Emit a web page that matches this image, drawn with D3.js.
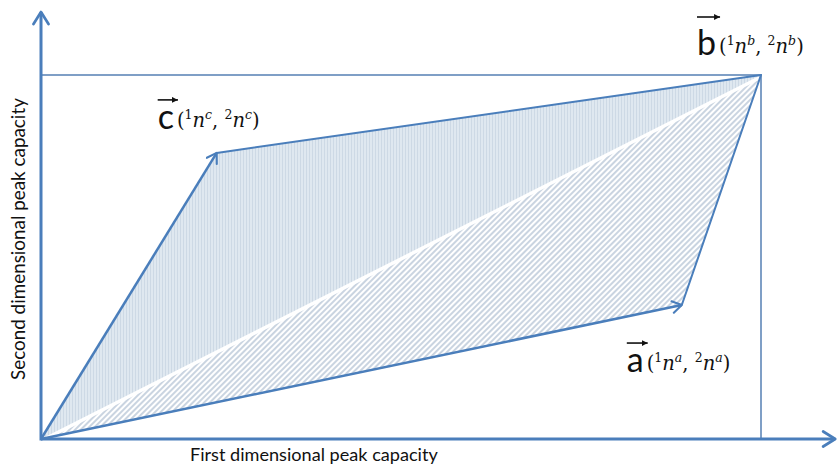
<!DOCTYPE html>
<html>
<head>
<meta charset="utf-8">
<script src="https://cdn.jsdelivr.net/npm/d3@7"></script>
<style>
  html, body { margin: 0; padding: 0; background: #fff; overflow: hidden; }
  svg { display: block; }
</style>
</head>
<body>
<svg id="chart" width="837" height="465"></svg>
<script>
// Peak-capacity vectors (arbitrary units, b normalised to 100)
const vectorNames = ["a", "b", "c"];
const firstDimCapacity  = [89.0, 100, 24.4];   // ¹n
const secondDimCapacity = [36.8, 100, 78.6];   // ²n
const axisExtent = { x: 110.3, y: 117.3 };
const axisTitles = { x: "First dimensional peak capacity", y: "Second dimensional peak capacity" };

const W = 837, H = 465;
const origin = { x: 41, y: 439 };
const svg = d3.select("#chart");

const x = d3.scaleLinear().domain([0, 100]).range([origin.x, 761]);
const y = d3.scaleLinear().domain([0, 100]).range([origin.y, 75]);

const pts = {};
vectorNames.forEach((n, i) => { pts[n] = [x(firstDimCapacity[i]), y(secondDimCapacity[i])]; });
const O = [x(0), y(0)];

const axisBlue = "#4a7ebb";
const frameBlue = "#7f9fc6";

const defs = svg.append("defs");
// vertical stripe fill for triangle O-c-b
const pv = defs.append("pattern").attr("id", "vstripe")
  .attr("patternUnits", "userSpaceOnUse").attr("width", 3).attr("height", 10);
pv.append("rect").attr("width", 3).attr("height", 10).attr("fill", "#dfe8f0");
pv.append("line").attr("x1", 0.5).attr("x2", 0.5).attr("y1", 0).attr("y2", 10)
  .attr("stroke", "#cdd9e5").attr("stroke-width", 1);
// diagonal hatch fill for triangle O-b-a
const pd = defs.append("pattern").attr("id", "dhatch")
  .attr("patternUnits", "userSpaceOnUse").attr("width", 4).attr("height", 10)
  .attr("patternTransform", "rotate(45)");
pd.append("rect").attr("width", 4).attr("height", 10).attr("fill", "#ffffff");
pd.append("line").attr("x1", 1).attr("x2", 1).attr("y1", 0).attr("y2", 10)
  .attr("stroke", "#b3c2d4").attr("stroke-width", 1.4);

// open arrowhead for the vectors and axes
function openHead(id, color, size) {
  const m = defs.append("marker").attr("id", id)
    .attr("viewBox", "-10 -6 12 12").attr("refX", 0).attr("refY", 0)
    .attr("markerWidth", size).attr("markerHeight", size)
    .attr("markerUnits", "userSpaceOnUse").attr("orient", "auto");
  m.append("path").attr("d", "M-8,-5 L0,0 L-8,5")
    .attr("fill", "none").attr("stroke", color).attr("stroke-width", 1.8)
    .attr("stroke-linecap", "round").attr("stroke-linejoin", "round");
}
openHead("headVec", axisBlue, 14);
openHead("headAxis", axisBlue, 18);
// small filled head for the vector-notation arrows over the letters
const fh = defs.append("marker").attr("id", "headText")
  .attr("viewBox", "-6 -3 6 6").attr("refX", 0).attr("refY", 0)
  .attr("markerWidth", 6).attr("markerHeight", 6)
  .attr("markerUnits", "userSpaceOnUse").attr("orient", "auto");
fh.append("path").attr("d", "M-6,-3 L0,0 L-6,3 Z").attr("fill", "#111");

const line = d3.line();

// shaded regions
svg.append("path").attr("d", line([O, pts.b, pts.a]) + "Z").attr("fill", "url(#dhatch)");
svg.append("path").attr("d", line([O, pts.b])).attr("stroke", "#fff").attr("stroke-width", 7);
svg.append("path").attr("d", line([O, pts.c, pts.b]) + "Z").attr("fill", "url(#vstripe)");

// frame lines through b
svg.append("path").attr("d", line([[x(0), pts.b[1]], pts.b, [pts.b[0], y(0)]]))
  .attr("fill", "none").attr("stroke", frameBlue).attr("stroke-width", 2);

// sides from a and c to b
svg.append("path").attr("d", line([pts.a, pts.b, pts.c]))
  .attr("fill", "none").attr("stroke", axisBlue).attr("stroke-width", 2)
  .attr("stroke-linejoin", "round");

// vectors a and c
["a", "c"].forEach(n => {
  svg.append("path").attr("d", line([O, pts[n]]))
    .attr("fill", "none").attr("stroke", axisBlue).attr("stroke-width", 2.5)
    .attr("marker-end", "url(#headVec)");
});

// axes
const xAxisScale = d3.scaleLinear().domain([0, axisExtent.x]).range([origin.x, origin.x + axisExtent.x * (x(1) - x(0))]);
const yAxisScale = d3.scaleLinear().domain([0, axisExtent.y]).range([origin.y, origin.y - axisExtent.y * (y(0) - y(1))]);
svg.append("path").attr("d", line([[xAxisScale(0), origin.y], [xAxisScale(axisExtent.x), origin.y]]))
  .attr("stroke", axisBlue).attr("stroke-width", 3).attr("marker-end", "url(#headAxis)");
svg.append("path").attr("d", line([[origin.x, yAxisScale(0) + 1.5], [origin.x, yAxisScale(axisExtent.y)]]))
  .attr("stroke", axisBlue).attr("stroke-width", 3).attr("marker-end", "url(#headAxis)");

// axis titles, sized to span their lengths along the axes
function fitTitle(sel, targetLen) {
  const len = sel.node().getComputedTextLength();
  sel.attr("font-size", 16 * targetLen / len);
}
const xt = svg.append("text").attr("x", 190).attr("y", 461)
  .attr("font-family", "Lato, Open Sans, sans-serif").attr("font-size", 16).attr("fill", "#111")
  .text(axisTitles.x);
fitTitle(xt, 248);
const yt = svg.append("text").attr("transform", "translate(25,380) rotate(-90)")
  .attr("font-family", "Lato, Open Sans, sans-serif").attr("font-size", 16).attr("fill", "#111")
  .text(axisTitles.y);
fitTitle(yt, 282);

// vector labels: letter with arrow, then (¹n, ²n) coordinates
const labelOffsets = { a: [-55, 67], b: [-64, -20], c: [-59, -24] };
vectorNames.forEach(n => {
  const [px, py] = pts[n];
  const lx = px + labelOffsets[n][0], ly = py + labelOffsets[n][1];
  const g = svg.append("g").attr("transform", `translate(${lx},${ly})`);
  const letter = g.append("text").attr("font-family", "Lato, Open Sans, sans-serif")
    .attr("font-size", 34).attr("fill", "#111").text(n);
  const lw = letter.node().getComputedTextLength();
  const top = n === "b" ? -38 : -29;
  g.append("line").attr("x1", 0).attr("x2", lw + 4).attr("y1", top).attr("y2", top)
    .attr("stroke", "#111").attr("stroke-width", 1.6).attr("marker-end", "url(#headText)");
  const t = g.append("text").attr("x", lw + 3).attr("y", -2)
    .attr("font-family", "DejaVu Serif, serif").attr("font-size", 19.5).attr("fill", "#111");
  const sup = (s) => t.append("tspan").attr("font-size", 12.5).attr("dy", -8).text(s);
  const base = (s, italic) => t.append("tspan").attr("dy", 8).attr("font-style", italic ? "italic" : "normal").text(s);
  t.append("tspan").text("(");
  sup("1");
  base("n", true);
  sup(n).attr("font-style", "italic");
  base(", ", false);
  sup("2");
  base("n", true);
  sup(n).attr("font-style", "italic");
  base(")", false);
});
</script>
</body>
</html>
